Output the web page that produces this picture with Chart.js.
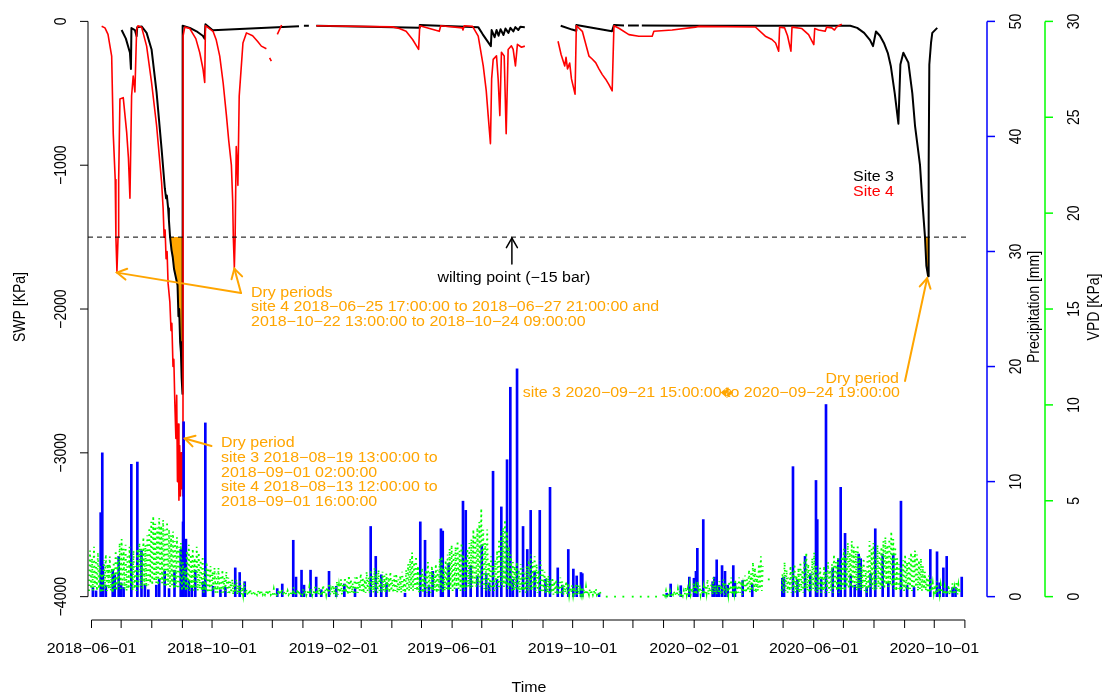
<!DOCTYPE html>
<html><head><meta charset="utf-8">
<script src="https://cdn.jsdelivr.net/npm/chart.js@4.4.1/dist/chart.umd.min.js"></script>
<style>html,body{margin:0;padding:0;background:#fff}canvas{display:block}</style>
</head><body>
<canvas id="c" width="1105" height="698"></canvas>
<script>
// ---------------- DATA ----------------
const site3SWP = [
["2018-07-01 12:00",-60],["2018-07-05 19:00",-120],["2018-07-09 22:00",-218],["2018-07-10 22:00",-331],["2018-07-11 10:00",-46],
["2018-07-14 22:00",-60],["2018-07-16 16:00",-103],["2018-07-17 07:00",-40],["2018-07-21 17:00",-35],["2018-07-26 19:00",-80],
["2018-07-31 19:00",-195],["2018-08-05 21:00",-494],["2018-08-10 22:00",-885],["2018-08-14 05:00",-1160],["2018-08-15 12:00",-1230],
["2018-08-16 06:00",-1210],["2018-08-17 14:00",-1300],["2018-08-18 08:00",-1380],["2018-08-19 13:00",-1500],["2018-08-21 00:00",-1590],
["2018-08-22 06:00",-1640],["2018-08-23 12:00",-1720],["2018-08-24 18:00",-1760],["2018-08-26 00:00",-1800],["2018-08-27 02:00",-1835],
["2018-08-28 00:00",-2050],["2018-08-28 18:00",-2000],["2018-08-29 17:00",-2230],["2018-08-30 12:00",-2300],["2018-08-31 06:00",-2480],
["2018-09-01 02:00",-2590],["2018-09-01 06:00",-30],["2018-09-08 12:00",-45],["2018-09-15 07:00",-69],["2018-09-21 14:00",-100],
["2018-09-23 12:00",-120],["2018-09-24 08:00",-20],["2018-10-01 17:00",-62],["2018-12-28 00:00",-34],["2018-12-30 00:00",null],
["2019-01-02 00:00",-30],["2019-01-07 00:00",-30],["2019-01-10 00:00",null],["2019-01-14 12:00",-30],["2019-04-28 19:00",-45],
["2019-04-29 06:00",-25],["2019-06-27 10:00",-40],["2019-07-02 00:00",-90],["2019-07-06 00:00",-130],["2019-07-10 05:00",-172],
["2019-07-11 00:00",-60],["2019-07-14 00:00",-110],["2019-07-16 00:00",-60],["2019-07-18 00:00",-100],["2019-07-20 00:00",-55],
["2019-07-23 00:00",-95],["2019-07-25 00:00",-50],["2019-07-28 00:00",-80],["2019-07-30 00:00",-45],["2019-08-02 00:00",-70],
["2019-08-04 00:00",-40],["2019-08-07 00:00",-60],["2019-08-09 00:00",-38],["2019-08-13 14:00",-40],["2019-08-20 00:00",null],
["2019-09-18 22:00",-30],["2019-09-30 10:00",-57],["2019-10-04 12:00",-65],["2019-10-04 18:00",-25],["2019-11-09 19:00",-69],
["2019-11-11 19:00",-25],["2019-11-22 00:00",-28],["2019-11-24 00:00",null],["2019-11-26 00:00",-28],["2019-12-07 00:00",-28],
["2019-12-08 00:00",null],["2019-12-10 00:00",-28],["2020-02-05 00:00",-30],["2020-07-08 00:00",-30],["2020-07-15 00:00",-45],
["2020-07-22 00:00",-80],["2020-07-28 00:00",-130],["2020-07-31 00:00",-172],["2020-08-03 00:00",-70],["2020-08-07 00:00",-100],
["2020-08-11 00:00",-150],["2020-08-15 00:00",-220],["2020-08-18 00:00",-310],["2020-08-22 00:00",-500],["2020-08-25 17:00",-711],
["2020-08-27 17:00",-300],["2020-08-30 17:00",-218],["2020-09-04 19:00",-287],["2020-09-08 19:00",-500],["2020-09-11 12:00",-724],
["2020-09-16 14:00",-1000],["2020-09-18 22:00",-1250],["2020-09-21 15:00",-1500],["2020-09-23 00:00",-1700],["2020-09-24 19:00",-1772],
["2020-09-25 08:00",-1000],["2020-09-26 00:00",-300],["2020-09-27 17:00",-150],["2020-09-29 00:00",-80],["2020-10-04 00:00",-45]
];
const site4SWP = [
["2018-06-11 07:00",-34],["2018-06-14 15:00",-45],["2018-06-17 17:00",-90],["2018-06-21 10:00",-241],["2018-06-23 00:00",-780],
["2018-06-25 00:00",-1100],["2018-06-25 17:00",-1500],["2018-06-26 18:00",-1740],["2018-06-27 21:00",-1500],["2018-06-28 12:00",-1100],
["2018-06-29 19:00",-540],["2018-07-03 03:00",-530],["2018-07-06 14:00",-770],["2018-07-08 09:00",-950],["2018-07-09 22:00",-1230],
["2018-07-11 14:00",-517],["2018-07-13 05:00",-380],["2018-07-14 22:00",-490],["2018-07-16 16:00",-60],["2018-07-18 00:00",-30],
["2018-07-21 17:00",-40],["2018-07-26 19:00",-172],["2018-07-31 19:00",-425],["2018-08-05 21:00",-724],["2018-08-10 22:00",-1115],
["2018-08-12 12:00",-1300],["2018-08-13 12:00",-1500],["2018-08-14 12:00",-1450],["2018-08-15 12:00",-1650],["2018-08-16 12:00",-1600],
["2018-08-17 12:00",-1820],["2018-08-19 07:00",-1950],["2018-08-20 12:00",-2150],["2018-08-21 08:00",-2100],["2018-08-22 12:00",-2400],
["2018-08-23 08:00",-2350],["2018-08-24 08:00",-2650],["2018-08-25 10:00",-2900],["2018-08-26 06:00",-2600],["2018-08-27 00:00",-3200],
["2018-08-27 18:00",-2800],["2018-08-28 12:00",-3330],["2018-08-29 06:00",-2950],["2018-08-30 00:00",-3300],["2018-08-30 18:00",-3000],
["2018-08-31 12:00",-3250],["2018-09-01 06:00",-3050],["2018-09-01 14:00",-3300],["2018-09-01 17:00",-100],["2018-09-03 10:00",-40],
["2018-09-08 12:00",-50],["2018-09-14 14:00",-120],["2018-09-18 14:00",-218],["2018-09-21 22:00",-333],["2018-09-23 14:00",-425],
["2018-09-24 08:00",-30],["2018-10-02 00:00",-69],["2018-10-05 07:00",-130],["2018-10-08 19:00",-241],["2018-10-12 07:00",-430],
["2018-10-15 14:00",-655],["2018-10-17 22:00",-830],["2018-10-20 14:00",-1000],["2018-10-21 22:00",-1250],["2018-10-22 13:00",-1500],
["2018-10-23 14:00",-1712],["2018-10-24 09:00",-1500],["2018-10-25 12:00",-870],["2018-10-26 12:00",-1000],["2018-10-27 04:00",-1140],
["2018-10-28 12:00",-520],["2018-11-01 07:00",-150],["2018-11-04 19:00",-80],["2018-11-11 02:00",-100],["2018-11-16 05:00",-140],
["2018-11-19 22:00",-172],["2018-11-25 00:00",-190],["2018-11-26 12:00",null],["2018-11-28 07:00",-253],["2018-11-30 00:00",-276],
["2018-12-03 00:00",null],["2018-12-06 02:00",-90],["2018-12-10 10:00",-25],["2018-12-20 00:00",null],["2019-01-14 12:00",-30],
["2019-04-01 12:00",-38],["2019-04-08 14:00",-50],["2019-04-15 10:00",-69],["2019-04-22 00:00",-126],["2019-04-28 02:00",-195],
["2019-04-29 06:00",-30],["2019-05-19 00:00",-69],["2019-05-20 12:00",-30],["2019-06-11 07:00",-45],["2019-06-12 00:00",-60],
["2019-06-13 06:00",-30],["2019-06-21 17:00",-35],["2019-06-27 10:00",-103],["2019-07-02 12:00",-310],["2019-07-05 12:00",-480],
["2019-07-07 12:00",-655],["2019-07-09 19:00",-850],["2019-07-11 00:00",-400],["2019-07-12 14:00",-264],["2019-07-15 22:00",-240],
["2019-07-17 14:00",-400],["2019-07-19 07:00",-655],["2019-07-20 22:00",-215],["2019-07-23 17:00",-240],["2019-07-25 17:00",-781],
["2019-07-27 17:00",-195],["2019-07-31 00:00",-170],["2019-08-01 19:00",-195],["2019-08-04 02:00",-310],["2019-08-06 02:00",-160],
["2019-08-10 05:00",-180],["2019-08-13 14:00",-172],["2019-08-20 00:00",null],["2019-09-16 05:00",-138],["2019-09-19 07:00",-230],
["2019-09-23 00:00",-310],["2019-09-24 07:00",-250],["2019-09-25 19:00",-330],["2019-09-28 00:00",-290],["2019-09-29 19:00",-400],
["2019-10-03 10:00",-506],["2019-10-04 17:00",-30],["2019-10-10 19:00",-69],["2019-10-17 12:00",-241],["2019-10-20 12:00",-260],
["2019-10-24 07:00",-287],["2019-10-27 14:00",-330],["2019-10-31 00:00",-370],["2019-11-03 10:00",-402],["2019-11-06 17:00",-440],
["2019-11-10 00:00",-483],["2019-11-11 19:00",-30],["2019-11-16 19:00",-48],["2019-11-26 22:00",-92],["2019-12-07 00:00",-103],
["2019-12-20 12:00",-103],["2019-12-22 05:00",-69],["2020-01-09 17:00",-60],["2020-02-02 07:00",-40],["2020-02-05 14:00",-35],
["2020-04-02 22:00",-39],["2020-04-13 00:00",-103],["2020-04-19 17:00",-126],["2020-04-23 10:00",-150],["2020-04-26 12:00",-207],
["2020-04-27 12:00",-40],["2020-05-02 12:00",-45],["2020-05-05 12:00",-100],["2020-05-08 22:00",-207],["2020-05-10 00:00",-40],
["2020-05-20 00:00",-50],["2020-05-26 19:00",-92],["2020-06-01 02:00",-161],["2020-06-02 00:00",-50],["2020-06-05 22:00",-60],
["2020-06-12 14:00",-69],["2020-06-14 00:00",-40],["2020-06-19 07:00",-45],["2020-06-22 00:00",-60],["2020-06-24 00:00",-40],
["2020-06-27 19:00",-25],["2020-06-29 10:00",-20]
];
const precipitation = [
["2018-06-02 10:00",0.8],["2018-06-05 14:00",0.5],["2018-06-10 07:00",7.3],["2018-06-11 22:00",12.5],["2018-06-12 14:00",2.8],
["2018-06-15 12:00",1.0],["2018-06-22 12:00",2.3],["2018-06-24 12:00",1.9],["2018-06-28 12:00",3.5],["2018-06-30 22:00",1.2],
["2018-07-03 12:00",0.8],["2018-07-11 07:00",11.5],["2018-07-17 10:00",11.7],["2018-07-21 14:00",4.0],["2018-07-25 02:00",1.0],
["2018-07-28 12:00",0.6],["2018-08-05 14:00",1.0],["2018-08-08 12:00",1.5],["2018-08-14 02:00",2.2],["2018-08-18 12:00",0.7],
["2018-08-24 00:00",2.3],["2018-08-30 07:00",4.1],["2018-09-01 16:00",6.5],["2018-09-02 06:00",15.2],["2018-09-04 14:00",5.0],
["2018-09-07 12:00",1.4],["2018-09-10 12:00",0.9],["2018-09-14 00:00",2.3],["2018-09-21 22:00",1.3],["2018-09-24 05:00",15.1],
["2018-10-02 00:00",0.9],["2018-10-09 12:00",0.6],["2018-10-14 12:00",0.8],["2018-10-24 12:00",2.5],["2018-10-29 00:00",2.1],
["2018-11-03 02:00",1.3],["2018-12-06 00:00",0.7],["2018-12-11 02:00",1.1],["2018-12-22 05:00",4.9],["2018-12-25 00:00",1.7],
["2018-12-30 14:00",2.3],["2019-01-02 02:00",1.0],["2019-01-08 17:00",2.3],["2019-01-14 10:00",1.7],["2019-01-19 14:00",0.6],
["2019-01-27 10:00",2.2],["2019-02-03 17:00",0.9],["2019-02-11 22:00",1.1],["2019-02-22 17:00",0.7],["2019-03-10 14:00",6.1],
["2019-03-15 17:00",3.5],["2019-03-21 07:00",1.9],["2019-03-26 14:00",1.2],["2019-04-14 07:00",0.3],["2019-04-29 19:00",6.5],
["2019-05-04 14:00",4.9],["2019-05-08 12:00",1.0],["2019-05-12 07:00",2.2],["2019-05-20 17:00",5.9],["2019-05-22 12:00",5.7],
["2019-05-28 12:00",2.9],["2019-06-05 14:00",0.7],["2019-06-12 00:00",8.3],["2019-06-14 19:00",7.5],["2019-06-19 19:00",2.7],
["2019-06-26 12:00",1.8],["2019-07-01 00:00",4.5],["2019-07-05 12:00",2.0],["2019-07-08 12:00",1.2],["2019-07-12 10:00",10.9],
["2019-07-16 10:00",1.5],["2019-07-20 19:00",7.8],["2019-07-26 14:00",11.9],["2019-07-29 22:00",18.2],["2019-08-01 12:00",1.5],
["2019-08-05 17:00",19.8],["2019-08-11 19:00",6.1],["2019-08-16 02:00",4.1],["2019-08-19 12:00",7.5],["2019-08-23 12:00",2.2],
["2019-08-28 17:00",7.5],["2019-09-03 12:00",1.5],["2019-09-08 02:00",9.5],["2019-09-15 22:00",2.5],["2019-09-20 12:00",1.0],
["2019-09-26 14:00",4.1],["2019-10-01 17:00",2.4],["2019-10-05 02:00",1.8],["2019-10-09 10:00",2.1],["2019-10-10 19:00",2.0],
["2019-10-27 17:00",0.3],["2020-01-04 05:00",0.3],["2020-01-08 05:00",1.1],["2020-01-18 10:00",0.95],["2020-01-27 02:00",1.7],
["2020-01-31 19:00",1.6],["2020-02-02 19:00",2.2],["2020-02-04 05:00",4.2],["2020-02-10 05:00",6.7],["2020-02-19 17:00",1.3],
["2020-02-21 10:00",1.7],["2020-02-23 19:00",3.2],["2020-02-26 02:00",1.0],["2020-02-29 05:00",2.7],["2020-03-03 05:00",2.2],
["2020-03-05 22:00",1.0],["2020-03-11 14:00",2.7],["2020-03-13 07:00",1.2],["2020-03-21 02:00",1.4],["2020-03-30 19:00",1.1],
["2020-04-30 05:00",1.6],["2020-05-01 22:00",1.7],["2020-05-11 00:00",11.3],["2020-05-15 12:00",1.5],["2020-05-23 05:00",3.5],
["2020-05-28 12:00",2.0],["2020-06-03 07:00",10.1],["2020-06-04 14:00",6.7],["2020-06-08 12:00",1.5],["2020-06-13 10:00",16.7],
["2020-06-20 05:00",2.5],["2020-06-25 22:00",3.3],["2020-06-28 07:00",9.5],["2020-07-02 17:00",5.5],["2020-07-08 10:00",1.9],
["2020-07-12 12:00",1.0],["2020-07-16 12:00",3.7],["2020-07-18 12:00",3.3],["2020-07-24 14:00",0.8],["2020-07-28 12:00",2.0],
["2020-08-02 07:00",5.9],["2020-08-09 19:00",3.7],["2020-08-15 12:00",1.2],["2020-08-20 12:00",3.7],["2020-08-28 07:00",8.3],
["2020-09-03 12:00",1.0],["2020-09-10 12:00",0.8],["2020-09-27 00:00",4.1],["2020-10-03 19:00",3.9],["2020-10-06 12:00",1.2],
["2020-10-10 05:00",2.5],["2020-10-13 14:00",3.5],["2020-10-19 14:00",0.8],["2020-10-22 12:00",0.8],["2020-10-28 19:00",1.7]
];
// VPD, one reading per day (alternating afternoon high / night low)
const vpd2018Start = "2018-05-29";
const vpd2018 = [
.3,2.4,.4,2.0,.3,2.6,.5,1.9,.3,2.3, .4,1.6,.2,1.2,.3,1.9,.4,2.2,.3,1.7, .4,2.1,.3,1.5,.2,1.8,.4,2.4,.3,2.0,
.5,2.8,.4,3.0,.5,2.5,.4,2.7,.3,2.2, .4,2.6,.5,1.8,.3,2.4,.4,1.6,.3,2.5, .4,2.8,.5,2.5,.4,3.1,.6,2.7,.5,3.2,
.6,3.6,.7,3.9,.6,4.2,.8,3.8,.7,3.6, .6,4.1,.8,3.7,.7,4.0,.6,3.5,.5,3.9, .6,3.5,.5,3.2,.6,3.4,.4,2.9,.5,3.1,
.4,2.6,.5,2.8,.3,1.8,.4,1.5,.3,2.4, .4,2.7,.3,2.2,.4,2.5,.3,2.0,.4,2.6, .3,2.3,.4,1.9,.3,2.1,.2,1.4,.3,1.8,
.2,1.5,.3,1.6,.2,1.3,.3,1.5,.2,1.2, .2,1.5,.3,1.1,.2,1.4,.2,1.0,.3,1.3, .2,1.0,.1,.8,.2,.9,.1,.7,.2,.9,
.1,.6,.2,.8,.1,.5,.1,.7,.1,.4, .1,.3,.1,.4,.1,.2,.1,.3,.1,.2, .1,.3,.1,.2,.1,.3,.1,.2,.1,.3,
.1,.2,.1,.3,.1,.2,.1,.4,.1,.2, .1,.3,.1,.2,.1,.4,.1,.3,.1,.2, .1,.3,.1,.2,.1,.3,.1,.5,.1,.2,
.1,.4,.1,.3,.1,.2,.1,.4,.1,.3, .1,.3,.1,.5,.1,.4,.1,.3,.1,.6, .1,.4,.1,.5,.1,.3,.2,.6,.1,.4,
.1,.5,.2,.7,.1,.4,.2,.6,.1,.5, .2,.8,.1,.6,.2,.9,.1,.7,.2,1.0, .2,.8,.1,1.1,.2,.9,.2,.7,.1,1.0,
.2,1.1,.2,.8,.3,1.2,.2,1.0,.2,.9, .2,1.3,.3,1.0,.2,1.4,.3,1.1,.2,1.5, .3,1.2,.2,1.4,.3,1.0,.2,1.3,.3,1.1,
.2,1.2,.3,1.0,.2,1.3,.3,.9,.2,1.1, .3,1.2,.2,.9,.3,1.1,.2,1.3,.3,1.0, .2,1.4,.3,1.7,.3,2.0,.4,2.3,.3,1.8,
.4,2.1,.3,1.6,.2,1.2,.3,1.5,.2,1.1, .3,1.4,.2,1.8,.3,1.3,.2,1.6,.3,1.2, .3,1.7,.2,1.4,.3,2.0,.4,2.1,.2,1.5,
.3,1.9,.4,2.2,.3,2.5,.4,2.7,.3,2.3, .4,2.6,.5,2.9,.4,2.4,.3,2.8,.4,2.2, .3,2.0,.4,2.5,.5,2.8,.4,3.0,.5,3.5,
.6,3.2,.5,3.6,.6,3.9,.5,4.6,.6,3.5, .4,2.8,.3,3.5,.4,1.8,.3,2.1,.4,1.6, .3,1.9,.4,2.4,.5,3.0,.4,3.4,.6,3.6,
.5,4.0,.6,3.4,.4,2.6,.5,2.2,.3,1.8, .3,1.6,.4,1.8,.3,1.4,.2,1.7,.3,1.5, .3,1.2,.2,1.6,.3,1.9,.4,2.2,.3,1.8,
.4,2.1,.3,1.7,.2,1.4,.3,1.9,.2,1.5, .3,1.3,.2,1.0,.2,1.1,.1,.9,.2,1.0, .1,.8,.2,.9,.1,.7,.2,1.0,.1,.8,
.1,.6,.2,.8,.1,.7,.1,.5,.2,.6, .1,.5,.1,.7,.1,.6,.1,.4,.1,.5, .1,.4,.1,.5,.1,.3,.1,.4,.1,.3,
.1,.3,.1,.4,.1,.2,.1,.3,.1,.2
];
const vpd2020aStart = "2019-12-31";
const vpd2020a = [
.05,.2,.05,.3,.05,.2,.1,.3,.05,.2, .1,.3,.05,.2,.1,.4,.05,.3,.1,.2, .05,.3,
.1,.5,.1,.4,.1,.6,.1,.3,.2,.7, .1,.5,.1,.8,.2,.6,.1,.4,.1,.5,
.1,.6,.2,.9,.1,.5,.2,.7,.1,1.0, .2,.6,.1,.4,.2,.8,.1,.6,.2,.9, .1,.7,.2,.5,.1,
.8,.2,1.0,.1,.6,.2,.9,.1,.7,.2, 1.0,.2,.8,.1,.6,
.2,1.1,.2,.9,.3,1.4,.2,1.2,.3,1.8, .3,1.5,.2,1.1,.3,1.7,.4,2.1,.3,1.6
];
const vpd2020bStart = "2020-04-29";
const vpd2020b = [
.3,1.2,.2,1.8,.3,1.4,.2,1.0,.3,1.6, .2,1.3,.3,1.7,.2,1.1,.3,1.5,.2,1.8, .3,1.4,.2,1.9,.4,2.3,.3,1.7,.2,1.4,
.3,2.0,.4,2.3,.3,1.6,.2,1.2,.3,1.5, .2,1.1,.3,1.6,.2,1.3,.3,1.8,.2,1.4, .3,1.7,.2,2.2,.4,1.8,.3,2.0,.2,1.5,
.3,2.1,.4,2.5,.3,2.2,.5,2.8,.4,2.3, .5,2.9,.4,2.6,.5,2.4,.3,2.7,.4,2.1, .3,1.6,.4,2.0,.3,1.4,.2,2.2,.4,2.9,
.5,2.5,.4,2.8,.3,2.2,.4,2.7,.5,2.4, .4,2.6,.5,2.9,.4,3.1,.6,2.7,.5,3.0, .6,3.4,.5,3.0,.4,2.6,.3,2.0,.4,1.7,
.3,1.5,.4,1.9,.3,2.2,.4,1.8,.3,2.0, .4,2.3,.3,2.1,.4,2.4,.5,2.2,.3,1.9, .4,2.0,.3,1.6,.4,1.3,.3,1.0,.2,1.1,
.2,.9,.3,.7,.2,.6,.1,.8,.2,.5, .1,.6,.2,.4,.1,.5,.1,.3,.2,.6, .1,.4,.2,.7,.1,.5,.2,.8,.1,.6, .2,.5
];
const vpdSparse = [
["2019-11-04 12:00",0],["2019-11-12 22:00",0],["2019-11-21 07:00",0],["2019-11-30 19:00",0],["2019-12-08 22:00",0],
["2019-12-16 14:00",0],["2019-12-24 10:00",0],["2020-04-16 12:00",0.9]
];
const wiltingPoint = -1500;
const site3DryPeriods = [["2018-08-19 13:00","2018-09-01 02:00"],["2020-09-21 15:00","2020-09-24 19:00"]];
const site4DryPeriods = [["2018-06-25 17:00","2018-06-27 21:00"],["2018-08-13 12:00","2018-09-01 16:00"],["2018-10-22 13:00","2018-10-24 09:00"]];
const swpTicks = [0,-1000,-2000,-3000,-4000];
const precipTicks = [0,10,20,30,40,50];
const vpdTicks = [0,5,10,15,20,25,30];
const xLabelDates = ["2018-06-01","2018-10-01","2019-02-01","2019-06-01","2019-10-01","2020-02-01","2020-06-01","2020-10-01"];
const xTickFirst = "2018-06-01", xTickLast = "2020-11-01";

// ---------------- LAYOUT ----------------
const W=1105,H=698;
const L={left:88,right:970,top:0,bottom:620,yTop:17.5,yBot:596.5,x0px:91.5,pxPerDay:0.988,sx:1.14};
const FONT='14px "Liberation Sans", Arial, sans-serif';
const ORANGE='#FFA500';
const T0=Date.UTC(2018,5,1);
function toDay(s){const m=s.match(/(\d+)-(\d+)-(\d+)(?:\s+(\d+):(\d+))?/);return (Date.UTC(+m[1],+m[2]-1,+m[3],+(m[4]||0),+(m[5]||0))-T0)/864e5;}
function rng(lo,hi){const per=(hi-lo)/(L.yBot-L.yTop);return {min:lo-(L.bottom-L.yBot)*per,max:hi+(L.yTop-L.top)*per};}
const pts=a=>a.map(([t,v])=>({x:toDay(t),y:v}));
function seg(start,vals){const d0=toDay(start);return vals.map((v,i)=>({x:d0+i+0.5,y:v}));}
const s3=pts(site3SWP), s4=pts(site4SWP);
const vpdData=[...seg(vpd2018Start,vpd2018),{x:toDay("2019-11-01"),y:null},...seg(vpd2020aStart,vpd2020a),{x:toDay("2020-04-20"),y:null},...seg(vpd2020bStart,vpd2020b)];
function within(p,per){const a=toDay(per[0]),b=toDay(per[1]);return p.filter(q=>q.y!==null&&q.x>=a-1e-6&&q.x<=b+1e-6);}
function minIn(p,per){return within(p,per).reduce((m,q)=>(m===null||q.y<m.y)?q:m,null);}

const fillSets=site3DryPeriods.map(per=>({type:'line',data:within(s3,per),yAxisID:'y',borderWidth:0,pointRadius:0,
  backgroundColor:ORANGE,fill:{value:wiltingPoint},order:5}));

// ---------------- DRAW HELPERS ----------------
function txt(ctx,s,x,y,o={}){ctx.save();ctx.translate(x,y);ctx.scale(L.sx,1);if(o.rot)ctx.rotate(-Math.PI/2);
  ctx.font=o.font||FONT;ctx.fillStyle=o.color||'#000';ctx.textAlign=o.align||'center';ctx.textBaseline='middle';ctx.fillText(s,0,0);ctx.restore();}
function tw(ctx,s){ctx.save();ctx.font=FONT;const w=ctx.measureText(s).width*L.sx;ctx.restore();return w;}
function seg2(ctx,x0,y0,x1,y1){ctx.beginPath();ctx.moveTo(x0,y0);ctx.lineTo(x1,y1);ctx.stroke();}
function arrow(ctx,x0,y0,x1,y1,color,lw){ctx.save();ctx.strokeStyle=color;ctx.lineWidth=lw;ctx.lineCap='round';
  seg2(ctx,x0,y0,x1,y1);const a=Math.atan2(y1-y0,x1-x0),len=11,sp=Math.PI/6;
  ctx.beginPath();ctx.moveTo(x1-len*Math.cos(a-sp),y1-len*Math.sin(a-sp));ctx.lineTo(x1,y1);
  ctx.lineTo(x1-len*Math.cos(a+sp),y1-len*Math.sin(a+sp));ctx.stroke();ctx.restore();}
const mn=s=>s.replace(/-/g,'\u2212');

const overlay={id:'overlay',afterDatasetsDraw(chart){
  const ctx=chart.ctx,xs=chart.scales.x,ys=chart.scales.y,yp=chart.scales.yP,yv=chart.scales.yV,ca=chart.chartArea;
  // wilting point line
  ctx.save();ctx.strokeStyle='#000';ctx.lineWidth=1;ctx.setLineDash([5,4]);
  const yw=ys.getPixelForValue(wiltingPoint);seg2(ctx,ca.left,yw,ca.right,yw);ctx.restore();
  // left axis
  ctx.save();ctx.strokeStyle='#000';ctx.lineWidth=1;
  const ax=ca.left;seg2(ctx,ax,ys.getPixelForValue(swpTicks[0]),ax,ys.getPixelForValue(swpTicks[swpTicks.length-1]));
  swpTicks.forEach(v=>{const y=ys.getPixelForValue(v);seg2(ctx,ax,y,ax-8,y);txt(ctx,mn(String(v)),62,y,{rot:true});});
  txt(ctx,'SWP [KPa]',21,(L.yTop+L.yBot)/2,{rot:true});
  // bottom axis
  const yb=ca.bottom,xa=xs.getPixelForValue(toDay(xTickFirst)),xb=xs.getPixelForValue(toDay(xTickLast));
  seg2(ctx,xa,yb,xb,yb);
  let [Y,M]=xTickFirst.split('-').map(Number);
  while(true){const s=`${Y}-${String(M).padStart(2,'0')}-01`;const x=xs.getPixelForValue(toDay(s));seg2(ctx,x,yb,x,yb+8);
    if(s===xTickLast)break;M++;if(M>12){M=1;Y++;}}
  xLabelDates.forEach(s=>txt(ctx,mn(s),xs.getPixelForValue(toDay(s)),649));
  txt(ctx,'Time',(ca.left+ca.right)/2,688);
  ctx.restore();
  // precipitation axis
  ctx.save();ctx.strokeStyle='#0000FF';ctx.lineWidth=1.5;const px=987;
  seg2(ctx,px,yp.getPixelForValue(precipTicks[0]),px,yp.getPixelForValue(precipTicks[precipTicks.length-1]));
  precipTicks.forEach(v=>{const y=yp.getPixelForValue(v);seg2(ctx,px,y,px+8,y);txt(ctx,String(v),1017,y,{rot:true});});
  txt(ctx,'Precipitation [mm]',1035,(L.yTop+L.yBot)/2,{rot:true});ctx.restore();
  // VPD axis
  ctx.save();ctx.strokeStyle='#00FF00';ctx.lineWidth=1.5;const vx=1045;
  seg2(ctx,vx,yv.getPixelForValue(vpdTicks[0]),vx,yv.getPixelForValue(vpdTicks[vpdTicks.length-1]));
  vpdTicks.forEach(v=>{const y=yv.getPixelForValue(v);seg2(ctx,vx,y,vx+8,y);txt(ctx,String(v),1075,y,{rot:true});});
  txt(ctx,'VPD [KPa]',1095,(L.yTop+L.yBot)/2,{rot:true});ctx.restore();
  // legend
  txt(ctx,'Site 3',853,177,{align:'left'});txt(ctx,'Site 4',853,192,{align:'left',color:'#FF0000'});
  // wilting point label
  const wx=xs.getPixelForValue(toDay("2019-07-31 12:00"));
  arrow(ctx,wx,264,wx,yw+1,'#000',1.5);
  txt(ctx,'wilting point (\u221215 bar)',wx+2,278);
  // Dry periods (site 4, Jun & Oct)
  const t1={x:241,y:293};
  [site4DryPeriods[0],site4DryPeriods[2]].forEach(per=>{const m=minIn(s4,per);arrow(ctx,t1.x,t1.y,xs.getPixelForValue(m.x),ys.getPixelForValue(m.y)+1,ORANGE,2);});
  ['Dry periods','site 4 2018-06-25 17:00:00 to 2018-06-27 21:00:00 and','2018-10-22 13:00:00 to 2018-10-24 09:00:00']
    .forEach((s,i)=>txt(ctx,mn(s),251,293+i*14.5,{align:'left',color:ORANGE}));
  // Dry period Aug 2018
  arrow(ctx,211.5,446,xs.getPixelForValue(toDay("2018-09-03 12:00")),ys.getPixelForValue(-2900),ORANGE,2);
  ['Dry period','site 3 2018-08-19 13:00:00 to','2018-09-01 02:00:00','site 4 2018-08-13 12:00:00 to','2018-09-01 16:00:00']
    .forEach((s,i)=>txt(ctx,mn(s),221,[443.5,458.3,473.2,487.5,501.8][i],{align:'left',color:ORANGE}));
  // Dry period Sep 2020
  const m3=minIn(s3,site3DryPeriods[1]);
  arrow(ctx,905,381,xs.getPixelForValue(m3.x)-1,ys.getPixelForValue(m3.y)+2,ORANGE,2);
  const line2=mn('site 3 2020-09-21 15:00:00 to 2020-09-24 19:00:00');
  txt(ctx,'Dry period',899,379,{align:'right',color:ORANGE});
  txt(ctx,line2,900,393.5,{align:'right',color:ORANGE});
  const sx0=900-tw(ctx,line2)+tw(ctx,mn('site 3 2020-09-21 15:00:00'));
  txt(ctx,'\uFFFD',sx0-1,394.5,{align:'left',color:ORANGE,font:'11px "DejaVu Sans"'});
}};

const xr={min:(L.left-L.x0px)/L.pxPerDay,max:(L.right-L.x0px)/L.pxPerDay};
new Chart(document.getElementById('c'),{
  type:'line',
  data:{datasets:[
    {type:'line',label:'VPD',data:vpdData,yAxisID:'yV',borderColor:'#00FF00',borderWidth:1.8,borderDash:[1.5,3.5],borderCapStyle:'butt',pointRadius:0,spanGaps:false,order:1},
    {type:'line',label:'VPD sparse',data:pts(vpdSparse),yAxisID:'yV',showLine:false,pointStyle:'rect',pointRadius:1.3,pointBackgroundColor:'#00FF00',pointBorderWidth:0,order:1},
    {type:'bar',label:'Precipitation',data:pts(precipitation),yAxisID:'yP',backgroundColor:'#0000FF',barThickness:2,grouped:false,order:2},
    {type:'line',label:'Site 4',data:s4,yAxisID:'y',borderColor:'#FF0000',borderWidth:1.6,pointRadius:0,spanGaps:false,borderJoinStyle:'round',order:3},
    {type:'line',label:'Site 3',data:s3,yAxisID:'y',borderColor:'#000000',borderWidth:2,pointRadius:0,spanGaps:false,borderJoinStyle:'round',order:4},
    ...fillSets
  ]},
  options:{responsive:false,animation:false,events:[],
    layout:{padding:{left:L.left,right:W-L.right,top:L.top,bottom:H-L.bottom}},
    plugins:{legend:{display:false},tooltip:{enabled:false}},
    scales:{
      x:{type:'linear',display:false,offset:false,min:xr.min,max:xr.max},
      y:{type:'linear',display:false,...rng(-4000,0)},
      yP:{type:'linear',display:false,...rng(0,50)},
      yV:{type:'linear',display:false,...rng(0,30)}
    }},
  plugins:[overlay]
});
</script></body></html>
